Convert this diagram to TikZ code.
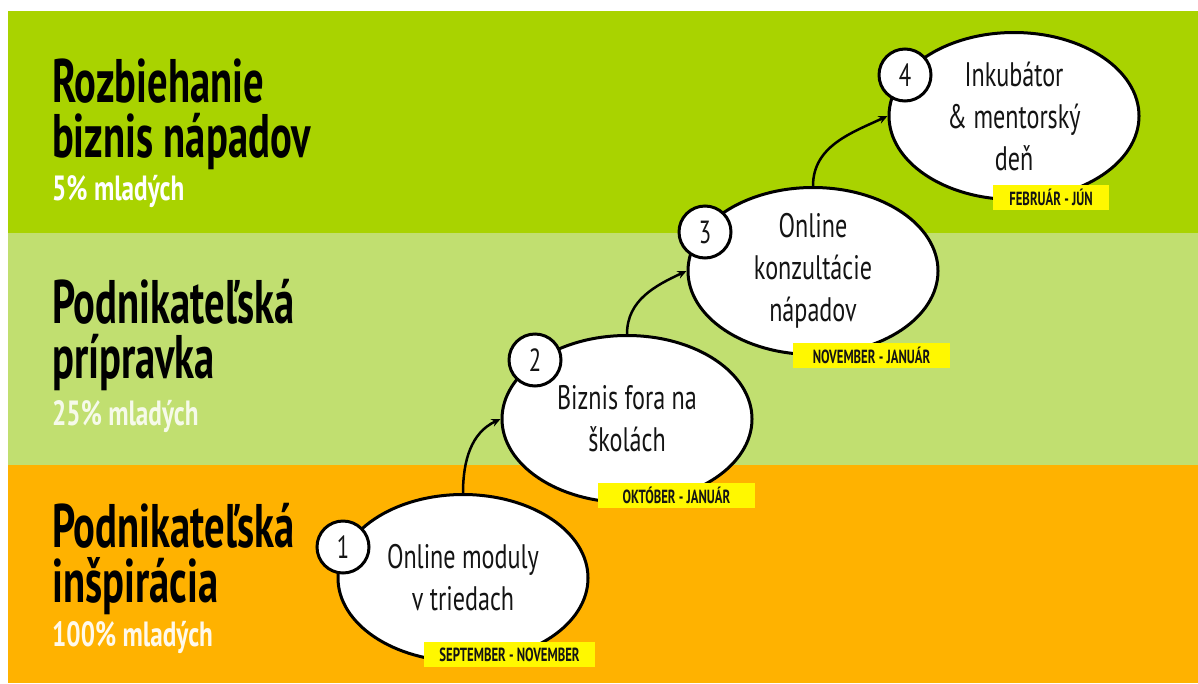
\documentclass[tikz,border=0pt]{standalone}
\usepackage{fontspec}
\usetikzlibrary{shapes.geometric,arrows.meta}
\newfontfamily\dinb{PT Sans}[FakeStretch=0.66]
\newfontfamily\dinp{PT Sans}[FakeStretch=0.72]
\newfontfamily\dinr{PT Sans}[FakeStretch=0.71]
\newfontfamily\dind{PT Sans}[FakeStretch=0.67]
\definecolor{topg}{RGB}{169,211,0}
\definecolor{midg}{RGB}{193,223,112}
\definecolor{orng}{RGB}{255,178,0}
\definecolor{yel}{RGB}{255,248,0}
\definecolor{ink}{RGB}{20,20,20}
\begin{document}
\begin{tikzpicture}[x=1pt,y=-1pt,
  bubble/.style={ellipse,draw=black,line width=3pt,fill=white,minimum width=250pt,minimum height=167pt,inner sep=0pt,align=center,text=ink,font=\dinr\fontsize{34}{42}\selectfont},
  numc/.style={circle,draw=black,line width=3pt,fill=white,minimum size=52pt,inner sep=0pt,text=ink,font=\dinr\fontsize{32}{32}\selectfont},
  datebox/.style={fill=yel,minimum height=25pt,inner sep=0pt,text=ink,font=\dind\bfseries\fontsize{19}{19}\selectfont},
  title/.style={anchor=base west,inner sep=0pt,align=left,text=black,font=\dinb\bfseries\fontsize{61.5}{54.5}\selectfont},
  pct/.style={anchor=base west,inner sep=0pt,font=\dinp\bfseries\fontsize{35}{35}\selectfont},
  flow/.style={line width=2.5pt,-{Stealth[length=9pt,width=8pt]}}
]
\useasboundingbox (0,0) rectangle (1198,683);
\fill[white] (0,0) rectangle (1198,683);
\fill[topg] (8,11) rectangle (1198,233);
\fill[midg] (8,233) rectangle (1198,465);
\fill[orng] (8,465) rectangle (1198,683);

% titles (base anchor = baseline of last line)
\node[title] (t1) at (52,157) {Rozbiehanie\\biznis nápadov};
\node[pct,text=white] (t1c) at (52,200) {5\% mladých};
\node[title] (t2) at (52,378) {Podnikateľská\\prípravka};
\node[pct,text=white!85!midg] (t2c) at (52,425) {25\% mladých};
\node[title] (t3) at (52,602) {Podnikateľská\\inšpirácia};
\node[pct,text=white!92!orng] (t3c) at (52,646) {100\% mladých};

% bubbles
\node[bubble] (e1) at (463,578) {Online moduly\\v triedach};
\node[bubble] (e2) at (627,419) {Biznis fora na\\školách};
\node[bubble] (e3) at (813,271) {Online\\konzultácie\\nápadov};
\node[bubble] (e4) at (1014,116) {Inkubátor\\\& mentorský\\deň};

% arrows
\draw[flow] (e1.north) to[out=90,in=205] (e2.west);
\draw[flow] (e2.north) to[out=90,in=205] (e3.west);
\draw[flow] (e3.north) to[out=90,in=205] (e4.west);

% number circles
\node[numc] (n1) at (343,547) {1};
\node[numc] (n2) at (535,360) {2};
\node[numc] (n3) at (705,232) {3};
\node[numc] (n4) at (905,75) {4};

% dates
\node[datebox,minimum width=171pt] (d1) at (509.5,654.5) {SEPTEMBER - NOVEMBER};
\node[datebox,minimum width=157pt] (d2) at (676.5,495.5) {OKTÓBER - JANUÁR};
\node[datebox,minimum width=157pt] (d3) at (871.5,355.5) {NOVEMBER - JANUÁR};
\node[datebox,minimum width=116pt] (d4) at (1051,197.5) {FEBRUÁR - JÚN};
\end{tikzpicture}
\end{document}
